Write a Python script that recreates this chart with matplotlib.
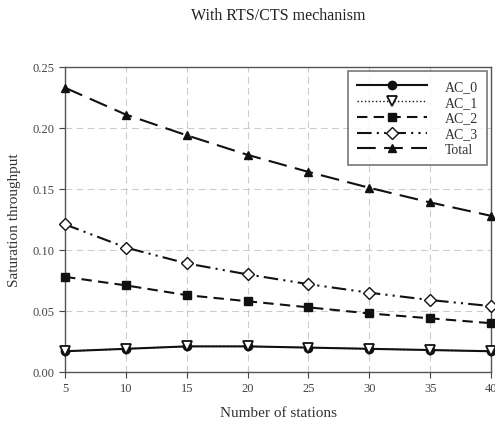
import matplotlib
matplotlib.use("Agg")
import matplotlib.pyplot as plt

plt.rcParams['font.family'] = ['Liberation Serif', 'DejaVu Serif']

stations = [5, 10, 15, 20, 25, 30, 35, 40]
ac0 = [0.017, 0.019, 0.021, 0.021, 0.020, 0.019, 0.018, 0.017]
ac1 = [0.017, 0.019, 0.021, 0.021, 0.020, 0.019, 0.018, 0.017]
ac2 = [0.078, 0.071, 0.063, 0.058, 0.053, 0.048, 0.044, 0.040]
ac3 = [0.121, 0.102, 0.089, 0.080, 0.072, 0.065, 0.059, 0.054]
total = [0.233, 0.211, 0.194, 0.178, 0.164, 0.151, 0.139, 0.128]
yticks = [0.00, 0.05, 0.10, 0.15, 0.20, 0.25]

fig = plt.figure(figsize=(4.95, 4.27), dpi=100)
ax = fig.add_axes([65/495, 1-373/427, (491-65)/495, (373-68)/427])

col = '#111111'
ax.plot(stations, ac0, '-', color=col, lw=1.5, marker='o', ms=6, mfc=col, mec=col, label='AC_0', clip_on=False, zorder=3)
ax.plot(stations, ac1, ':', color=col, lw=1.0, marker='v', ms=7, mfc='white', mec=col, mew=1.3, label='AC_1', clip_on=False, zorder=4)
ax.plot(stations, ac2, color=col, lw=1.5, ls=(0, (5, 3)), marker='s', ms=6, mfc=col, mec=col, label='AC_2', clip_on=False, zorder=3)
ax.plot(stations, ac3, color=col, lw=1.5, ls=(0, (7, 2.5, 1, 2.5, 1, 2.5)), marker='D', ms=6, mfc='white', mec=col, mew=1.0, label='AC_3', clip_on=False, zorder=3)
ax.plot(stations, total, color=col, lw=1.5, ls=(0, (9, 4)), marker='^', ms=6, mfc=col, mec=col, label='Total', clip_on=False, zorder=3)

ax.set_xlim(5, 40)
ax.set_ylim(0, 0.25)
ax.set_xticks(stations)
ax.set_yticks(yticks)
ax.set_yticklabels([f'{v:.2f}' for v in yticks])
ax.tick_params(labelsize=9, colors='#444444', direction='out', length=4)
ax.grid(True, ls=(0, (6, 4)), color='#cccccc', lw=0.8)
for s in ax.spines.values():
    s.set_color('#555555')
    s.set_linewidth(1.0)

ax.set_xlabel('Number of stations', fontsize=11, color='#333333', labelpad=8)
ax.set_ylabel('Saturation throughput', fontsize=11, color='#333333', labelpad=8)
fig.text(278/495, 1-16/427, 'With RTS/CTS mechanism', ha='center', va='center', fontsize=11.5, color='#222222')

leg = ax.legend(loc='upper right', fontsize=10, handlelength=5.0, handletextpad=1.3, frameon=True, fancybox=False,
                edgecolor='#555555', borderpad=0.65, labelspacing=0.2, borderaxespad=0,
                bbox_to_anchor=((487-65)/426, (373-72)/305))
leg.get_frame().set_linewidth(1.2)
for t in leg.get_texts():
    t.set_color('#333333')

fig.savefig('out.png', dpi=100)
